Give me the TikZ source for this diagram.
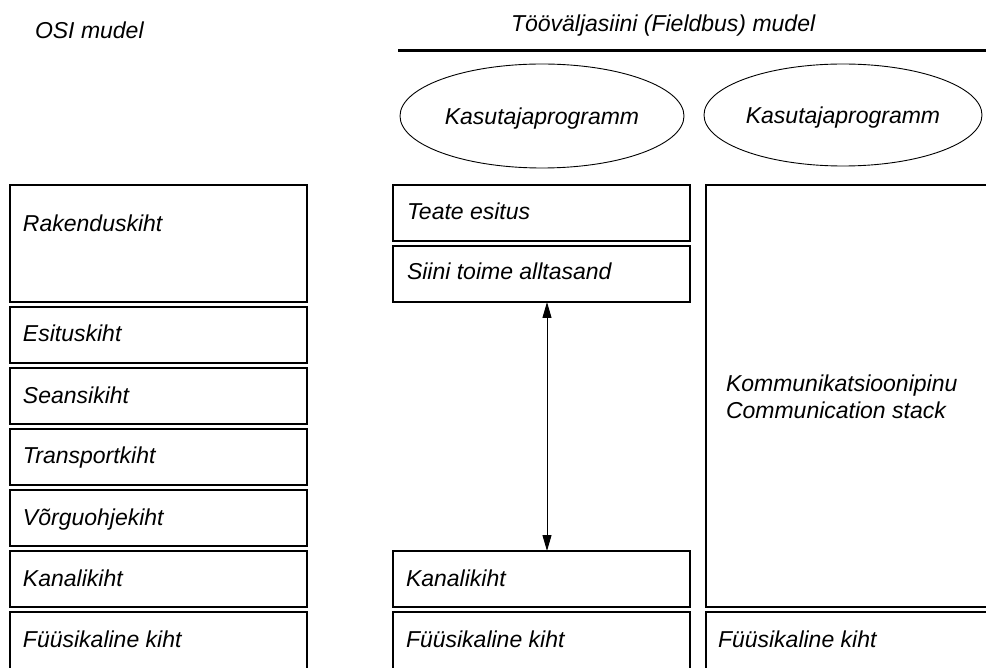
\documentclass[tikz,border=0pt]{standalone}
\usepackage{fontspec}
\setmainfont{Liberation Sans}
\usetikzlibrary{shapes.geometric,arrows.meta,calc}
\begin{document}
\begin{tikzpicture}[x=1pt,y=-1pt,
  every node/.style={font=\fontsize{23}{26.5}\selectfont\itshape, inner sep=0pt, outer sep=0pt},
  box/.style={draw=black, line width=1.2pt, rectangle, minimum width=297pt, anchor=north west},
  lbl/.style={anchor=base west, align=left},
  oval/.style={draw=black, line width=0.9pt, ellipse, text depth=0pt},
  arr/.style={line width=1pt, {Triangle[length=16pt,width=9pt]}-{Triangle[length=16pt,width=9pt]}}
]
\useasboundingbox (0,0) rectangle (986,668);

% titles
\node[lbl] (osi) at (35,39) {OSI mudel};
\node[lbl] (fb) at (511,32) {Tööväljasiini (Fieldbus) mudel};
\coordinate (la) at (398,51);
\coordinate (lb) at (995,51);
\draw[line width=3pt] (la) -- (lb);

% ellipses
\node[oval, minimum width=284pt, minimum height=104pt] (e1) at (542,116) {Kasutajaprogramm};
\node[oval, minimum width=278pt, minimum height=102pt] (e2) at (843,115) {Kasutajaprogramm};

% OSI column
\node[box, minimum height=117pt] (rak) at (10,185) {};
\node[box, minimum height=56pt] (esi) at (10,307) {};
\node[box, minimum height=56pt] (sea) at (10,368) {};
\node[box, minimum height=56pt] (tra) at (10,429) {};
\node[box, minimum height=56pt] (vor) at (10,490) {};
\node[box, minimum height=56pt] (kan) at (10,551) {};
\node[box, minimum height=70pt] (fuu) at (10,612) {};
\node[lbl] (trak) at ($(rak.north west)+(13,47)$) {Rakenduskiht};
\node[lbl] (tesi) at ($(esi.north west)+(13,35)$) {Esituskiht};
\node[lbl] (tsea) at ($(sea.north west)+(13,35)$) {Seansikiht};
\node[lbl] (ttra) at ($(tra.north west)+(13,35)$) {Transportkiht};
\node[lbl] (tvor) at ($(vor.north west)+(13,35)$) {Võrguohjekiht};
\node[lbl] (tkan) at ($(kan.north west)+(13,35)$) {Kanalikiht};
\node[lbl] (tfuu) at ($(fuu.north west)+(13,35)$) {Füüsikaline kiht};

% Fieldbus column 1
\node[box, minimum height=56pt] (tea) at (393,185) {};
\node[box, minimum height=56pt] (sii) at (393,246) {};
\node[box, minimum height=56pt] (mkan) at (393,551) {};
\node[box, minimum height=70pt] (mfuu) at (393,612) {};
\node[lbl] (ttea) at ($(tea.north west)+(14,35)$) {Teate esitus};
\node[lbl] (tsii) at ($(sii.north west)+(14,34)$) {Siini toime alltasand};
\node[lbl] (tmkan) at ($(mkan.north west)+(13,35)$) {Kanalikiht};
\node[lbl] (tmfuu) at ($(mfuu.north west)+(13,35)$) {Füüsikaline kiht};

% Fieldbus column 2
\node[box, minimum width=300pt, minimum height=422pt] (stk) at (706,185) {};
\node[box, minimum width=300pt, minimum height=70pt] (rfuu) at (706,612) {};
\node[lbl] (tstk) at ($(stk.north west)+(20,233)$) {Kommunikatsioonipinu\\Communication stack};
\node[lbl] (trfuu) at ($(rfuu.north west)+(12,35)$) {Füüsikaline kiht};

% arrow
\draw[arr] ([xshift=5.5pt]sii.south) -- ([xshift=5.5pt]mkan.north);
\end{tikzpicture}
\end{document}
